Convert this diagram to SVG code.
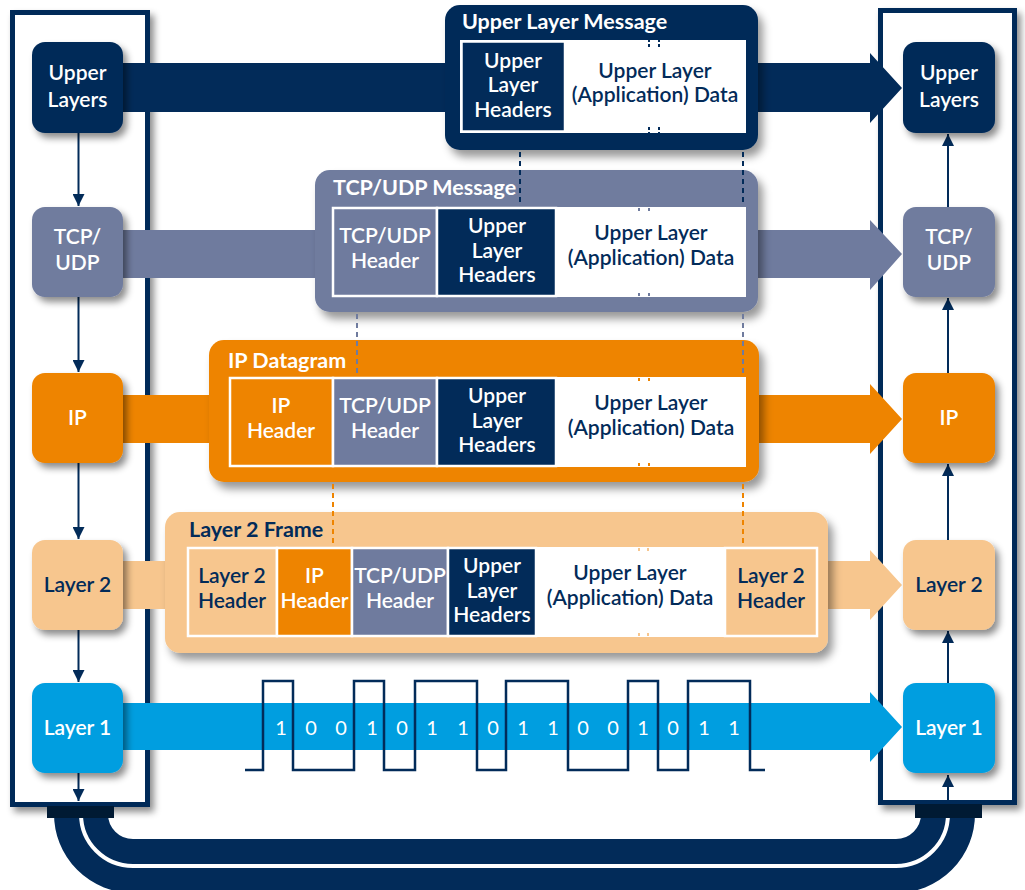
<svg xmlns="http://www.w3.org/2000/svg" width="1025" height="890" viewBox="0 0 1025 890">
<defs>
<filter id="sh" x="-20%" y="-20%" width="150%" height="150%"><feDropShadow dx="4" dy="5" stdDeviation="3.5" flood-color="#000" flood-opacity="0.45"/></filter>
<filter id="shb" x="-10%" y="-10%" width="130%" height="140%"><feDropShadow dx="5" dy="7" stdDeviation="4" flood-color="#000" flood-opacity="0.4"/></filter>
<marker id="ah" viewBox="0 0 10 10" refX="10" refY="5" markerWidth="12" markerHeight="12" markerUnits="userSpaceOnUse" orient="auto"><path d="M0,0 L10,5 L0,10z" fill="#022b59"/></marker>
<style>
.frame{fill:#fff;stroke:#022b59;stroke-width:5}
.node{stroke:none}
.nv{fill:#022b59}.gr{fill:#6f7b9e}.or{fill:#ee8400}.lo{fill:#f7c68e}.bl{fill:#009ee0}.wh{fill:#fff}
.t{font-family:Lato,"Liberation Sans",sans-serif;font-size:21px;font-weight:600;text-anchor:middle}
.ti{font-family:Lato,"Liberation Sans",sans-serif;font-size:21.5px;font-weight:700}
.w{fill:#fff}.d{fill:#022b59}
.cell{stroke:#fff;stroke-width:2.5}
.va{stroke:#022b59;stroke-width:2;fill:none;marker-end:url(#ah)}
.dot{stroke-width:2;stroke-dasharray:5 4;fill:none}
.brk{stroke-width:2;stroke-dasharray:3 2;fill:none}
.dig{font-family:Lato,"Liberation Sans",sans-serif;font-size:20px;fill:#fff;text-anchor:middle}
</style>
</defs>
<rect width="1025" height="890" fill="#fff"/>

<g id="frames">
<rect class="frame" x="12.5" y="12.5" width="135" height="792" filter="url(#sh)"/>
<rect class="frame" x="880.5" y="10.5" width="134" height="792" filter="url(#sh)"/>
</g>

<g id="connectors">
<path class="nv" d="M123,63 H870 V53 L902,88 L870,123 V112 H123z"/>
<path class="gr" d="M123,230 H870 V220 L902,254 L870,290 V278 H123z"/>
<path class="or" d="M123,395 H870 V384 L902,419 L870,454 V443 H123z"/>
<path class="lo" d="M123,561 H870 V550 L902,585 L870,620 V609 H123z"/>
<path class="bl" d="M123,703 H870 V692 L902,727 L870,762 V750 H123z"/>
<line class="va" x1="78.5" y1="133" x2="78.5" y2="206"/>
<line class="va" x1="78.5" y1="297" x2="78.5" y2="372"/>
<line class="va" x1="78.5" y1="463" x2="78.5" y2="539"/>
<line class="va" x1="78.5" y1="630" x2="78.5" y2="682"/>
<line class="va" x1="78.5" y1="773" x2="78.5" y2="801"/>
<line class="va" x1="948" y1="207" x2="948" y2="134"/>
<line class="va" x1="948" y1="373" x2="948" y2="298"/>
<line class="va" x1="948" y1="540" x2="948" y2="464"/>
<line class="va" x1="948" y1="683" x2="948" y2="631"/>
<line class="va" x1="948" y1="800" x2="948" y2="775"/>
</g>

<g id="node-left-upper"><rect class="node nv" x="32" y="42" width="91" height="91" rx="13" filter="url(#sh)"/><text class="t w" x="77.5" y="80">Upper</text><text class="t w" x="77.5" y="107">Layers</text></g>
<g id="node-left-tcp"><rect class="node gr" x="32" y="207" width="91" height="90" rx="13" filter="url(#sh)"/><text class="t w" x="77.5" y="244">TCP/</text><text class="t w" x="77.5" y="270">UDP</text></g>
<g id="node-left-ip"><rect class="node or" x="32" y="373" width="91" height="90" rx="13" filter="url(#sh)"/><text class="t w" x="77.5" y="425">IP</text></g>
<g id="node-left-l2"><rect class="node lo" x="32" y="540" width="91" height="90" rx="13" filter="url(#sh)"/><text class="t d" x="77.5" y="592">Layer 2</text></g>
<g id="node-left-l1"><rect class="node bl" x="32" y="683" width="91" height="90" rx="13" filter="url(#sh)"/><text class="t w" x="77.5" y="735">Layer 1</text></g>

<g id="node-right-upper"><rect class="node nv" x="903" y="42" width="92" height="91" rx="13" filter="url(#sh)"/><text class="t w" x="949" y="80">Upper</text><text class="t w" x="949" y="107">Layers</text></g>
<g id="node-right-tcp"><rect class="node gr" x="903" y="207" width="92" height="90" rx="13" filter="url(#sh)"/><text class="t w" x="949" y="244">TCP/</text><text class="t w" x="949" y="270">UDP</text></g>
<g id="node-right-ip"><rect class="node or" x="903" y="373" width="92" height="90" rx="13" filter="url(#sh)"/><text class="t w" x="949" y="425">IP</text></g>
<g id="node-right-l2"><rect class="node lo" x="903" y="540" width="92" height="90" rx="13" filter="url(#sh)"/><text class="t d" x="949" y="592">Layer 2</text></g>
<g id="node-right-l1"><rect class="node bl" x="903" y="683" width="92" height="90" rx="13" filter="url(#sh)"/><text class="t w" x="949" y="735">Layer 1</text></g>

<g id="msg-upper">
<rect class="nv" x="445" y="5" width="313" height="145" rx="15" filter="url(#shb)"/>
<text class="ti w" x="462" y="29">Upper Layer Message</text>
<rect class="wh" x="460" y="40" width="286" height="93"/>
<rect class="cell nv" x="461.5" y="41.5" width="103.5" height="90"/>
<text class="t w" x="513" y="67.5">Upper</text><text class="t w" x="513" y="92">Layer</text><text class="t w" x="513" y="116.5">Headers</text>
<text class="t d" x="655" y="77.5">Upper Layer</text><text class="t d" x="655" y="102">(Application) Data</text>
<line class="brk" x1="649" y1="39" x2="649" y2="47" stroke="#022b59"/><line class="brk" x1="659" y1="39" x2="659" y2="47" stroke="#022b59"/>
<line class="brk" x1="649" y1="127" x2="649" y2="135" stroke="#022b59"/><line class="brk" x1="659" y1="127" x2="659" y2="135" stroke="#022b59"/>
</g>

<g id="msg-tcp">
<rect class="gr" x="315" y="170" width="443" height="142" rx="15" filter="url(#shb)"/>
<text class="ti w" x="333" y="195">TCP/UDP Message</text>
<rect class="wh" x="332" y="207" width="414" height="90"/>
<rect class="cell gr" x="333" y="208" width="104" height="88"/>
<rect class="cell nv" x="437" y="208" width="119" height="88"/>
<text class="t w" x="385" y="243">TCP/UDP</text><text class="t w" x="385" y="267.5">Header</text>
<text class="t w" x="497" y="233">Upper</text><text class="t w" x="497" y="257.5">Layer</text><text class="t w" x="497" y="282">Headers</text>
<text class="t d" x="651" y="240">Upper Layer</text><text class="t d" x="651" y="264.5">(Application) Data</text>
<line class="brk" x1="639" y1="203" x2="639" y2="211" stroke="#6f7b9e"/><line class="brk" x1="649" y1="203" x2="649" y2="211" stroke="#6f7b9e"/>
<line class="brk" x1="639" y1="293" x2="639" y2="301" stroke="#6f7b9e"/><line class="brk" x1="649" y1="293" x2="649" y2="301" stroke="#6f7b9e"/>
</g>

<g id="msg-ip">
<rect class="or" x="209" y="340" width="550" height="142" rx="15" filter="url(#shb)"/>
<text class="ti w" x="228" y="368">IP Datagram</text>
<rect class="wh" x="229" y="377" width="517" height="90"/>
<rect class="cell or" x="230" y="378" width="103" height="88"/>
<rect class="cell gr" x="333" y="378" width="104" height="88"/>
<rect class="cell nv" x="437" y="378" width="119" height="88"/>
<text class="t w" x="281" y="413">IP</text><text class="t w" x="281" y="437.5">Header</text>
<text class="t w" x="385" y="413">TCP/UDP</text><text class="t w" x="385" y="437.5">Header</text>
<text class="t w" x="497" y="403">Upper</text><text class="t w" x="497" y="427.5">Layer</text><text class="t w" x="497" y="452">Headers</text>
<text class="t d" x="651" y="410">Upper Layer</text><text class="t d" x="651" y="434.5">(Application) Data</text>
<line class="brk" x1="639" y1="373" x2="639" y2="381" stroke="#ee8400"/><line class="brk" x1="649" y1="373" x2="649" y2="381" stroke="#ee8400"/>
<line class="brk" x1="639" y1="463" x2="639" y2="471" stroke="#ee8400"/><line class="brk" x1="649" y1="463" x2="649" y2="471" stroke="#ee8400"/>
</g>

<g id="msg-l2">
<rect class="lo" x="165" y="512" width="663" height="141" rx="15" filter="url(#shb)"/>
<text class="ti d" x="189" y="537">Layer 2 Frame</text>
<rect class="wh" x="187" y="547" width="631" height="90"/>
<rect class="cell lo" x="188" y="548" width="89" height="88"/>
<rect class="cell or" x="277" y="548" width="75" height="88"/>
<rect class="cell gr" x="352" y="548" width="96" height="88"/>
<rect class="cell nv" x="448" y="548" width="88" height="88"/>
<rect class="cell lo" x="725" y="548" width="92" height="88"/>
<text class="t d" x="232" y="583">Layer 2</text><text class="t d" x="232" y="607.5">Header</text>
<text class="t w" x="314.5" y="583">IP</text><text class="t w" x="314.5" y="607.5">Header</text>
<text class="t w" x="400" y="583">TCP/UDP</text><text class="t w" x="400" y="607.5">Header</text>
<text class="t w" x="492" y="573">Upper</text><text class="t w" x="492" y="597.5">Layer</text><text class="t w" x="492" y="622">Headers</text>
<text class="t d" x="630" y="580">Upper Layer</text><text class="t d" x="630" y="604.5">(Application) Data</text>
<text class="t d" x="771" y="583">Layer 2</text><text class="t d" x="771" y="607.5">Header</text>
<line class="brk" x1="639" y1="543" x2="639" y2="551" stroke="#f7c68e"/><line class="brk" x1="648" y1="543" x2="648" y2="551" stroke="#f7c68e"/>
<line class="brk" x1="639" y1="633" x2="639" y2="641" stroke="#f7c68e"/><line class="brk" x1="648" y1="633" x2="648" y2="641" stroke="#f7c68e"/>
</g>

<g id="dotted-links">
<line class="dot" x1="520" y1="152" x2="520" y2="206" stroke="#022b59"/>
<line class="dot" x1="743" y1="152" x2="743" y2="206" stroke="#022b59"/>
<line class="dot" x1="357" y1="314" x2="357" y2="376" stroke="#6f7b9e"/>
<line class="dot" x1="743" y1="314" x2="743" y2="376" stroke="#6f7b9e"/>
<line class="dot" x1="333" y1="484" x2="333" y2="546" stroke="#ee8400"/>
<line class="dot" x1="743" y1="484" x2="743" y2="546" stroke="#ee8400"/>
</g>

<g id="signal">
<path d="M245,770 H263 V681 H293 V770 H354 V681 H384 V770 H415 V681 H477 V770 H506 V681 H568 V770 H628 V681 H658 V770 H688 V681 H750 V770 H765" fill="none" stroke="#022b59" stroke-width="2.5"/>
<text class="dig" x="281" y="735">1</text><text class="dig" x="311" y="735">0</text><text class="dig" x="341" y="735">0</text><text class="dig" x="372" y="735">1</text>
<text class="dig" x="402" y="735">0</text><text class="dig" x="432" y="735">1</text><text class="dig" x="463" y="735">1</text><text class="dig" x="493" y="735">0</text>
<text class="dig" x="523" y="735">1</text><text class="dig" x="553" y="735">1</text><text class="dig" x="583" y="735">0</text><text class="dig" x="613" y="735">0</text>
<text class="dig" x="643" y="735">1</text><text class="dig" x="673" y="735">0</text><text class="dig" x="704" y="735">1</text><text class="dig" x="734" y="735">1</text>
</g>

<g id="medium">
<path d="M81,812 V814 A52,52 0 0 0 133,866 H896 A52,52 0 0 0 948,814 V812" fill="none" stroke="#022b59" stroke-width="54"/>
<path d="M81,812 V814 A52,52 0 0 0 133,866 H896 A52,52 0 0 0 948,814 V812" fill="none" stroke="#fff" stroke-width="4"/>
<rect x="47" y="806" width="67" height="12" fill="#001a33"/>
<rect x="915" y="804" width="67" height="14" fill="#001a33"/>
</g>
</svg>
